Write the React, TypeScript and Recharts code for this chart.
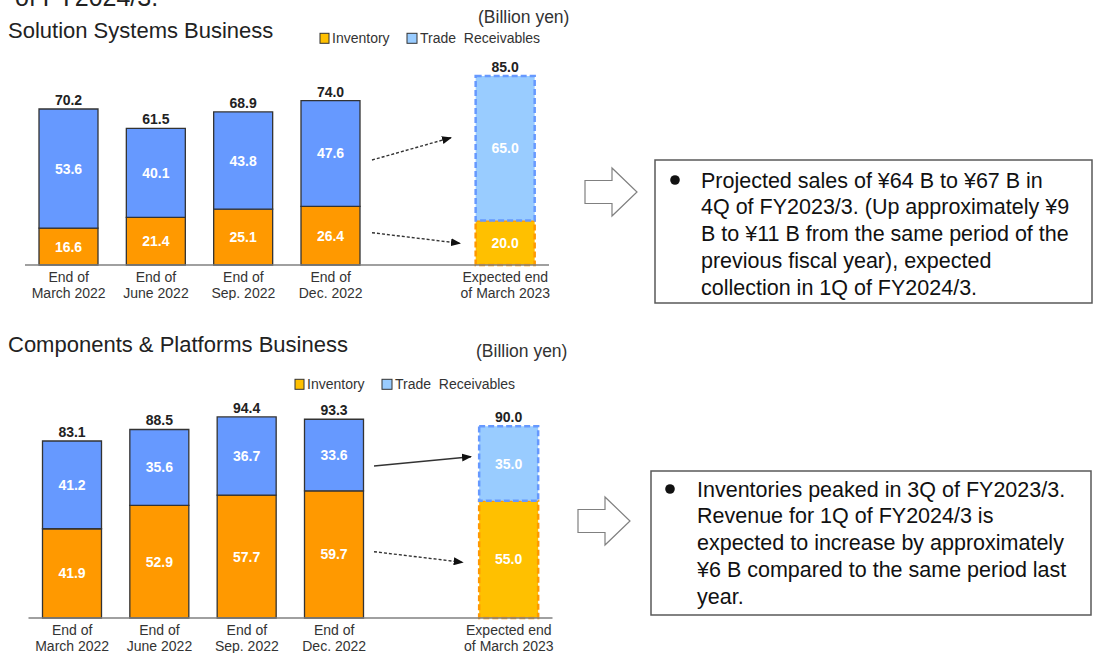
import React from "react";
import { BarChart, Bar, XAxis, YAxis, Cell, LabelList } from "recharts";

const FONT = "'Liberation Sans', Arial, sans-serif";

// categories (index 4 is the empty gap before the forecast)
const categories = [
  "End of\nMarch 2022",
  "End of\nJune 2022",
  "End of\nSep. 2022",
  "End of\nDec. 2022",
  "",
  "Expected end\nof March 2023",
];
const projected = [false, false, false, false, false, true];

// Solution Systems Business (billion yen)
const ssInventory = [16.6, 21.4, 25.1, 26.4, null, 20.0];
const ssReceivables = [53.6, 40.1, 43.8, 47.6, null, 65.0];
const ssTotals = [70.2, 61.5, 68.9, 74.0, null, 85.0];

// Components & Platforms Business (billion yen)
const cpInventory = [41.9, 52.9, 57.7, 59.7, null, 55.0];
const cpReceivables = [41.2, 35.6, 36.7, 33.6, null, 35.0];
const cpTotals = [83.1, 88.5, 94.4, 93.3, null, 90.0];

const seriesNames = ["Inventory", "Trade\u00a0\u00a0Receivables"];

const ssNote = [
  "Projected sales of \u00a564 B to \u00a567 B in",
  "4Q of FY2023/3. (Up approximately \u00a59",
  "B to \u00a511 B from the same period of the",
  "previous fiscal year), expected",
  "collection in 1Q of FY2024/3.",
];
const cpNote = [
  "Inventories peaked in 3Q of FY2023/3.",
  "Revenue for 1Q of FY2024/3 is",
  "expected to increase by approximately",
  "\u00a56 B compared to the same period last",
  "year.",
];

const colors = {
  inventory: "#FF9900",
  inventoryFcst: "#FFC000",
  receivables: "#6699FF",
  receivablesFcst: "#99CCFF",
  outline: "#333333",
};

const CategoryTick = (props: any) => {
  const { x, y, payload } = props;
  const lines = String(payload.value).split("\n");
  return (
    <text x={x} y={y} textAnchor="middle" fontSize={14} fill="#333" fontFamily={FONT}>
      {lines.map((l, i) => (
        <tspan key={i} x={x} dy={i === 0 ? 9 : 16}>
          {l}
        </tspan>
      ))}
    </text>
  );
};

const innerLabel = (props: any) => {
  const { x, y, width, height, value } = props;
  if (value == null) return null;
  return (
    <text
      x={x + width / 2}
      y={y + height / 2}
      dy={5}
      textAnchor="middle"
      fill="#fff"
      fontSize={14}
      fontWeight="bold"
      fontFamily={FONT}
    >
      {Number(value).toFixed(1)}
    </text>
  );
};

const totalLabel = (props: any) => {
  const { x, y, width, value } = props;
  if (value == null) return null;
  return (
    <text
      x={x + width / 2}
      y={y - 4}
      textAnchor="middle"
      fill="#222"
      fontSize={14}
      fontWeight="bold"
      fontFamily={FONT}
    >
      {Number(value).toFixed(1)}
    </text>
  );
};

function StackChart({ inv, rec, tot, domainMax, width, height, margin }: any) {
  const data = categories.map((c, i) => ({
    name: c,
    inventory: inv[i],
    receivables: rec[i],
    total: tot[i],
  }));
  return (
    <BarChart width={width} height={height} data={data} margin={margin} barSize={59}>
      <XAxis
        dataKey="name"
        height={35}
        interval={0}
        tickLine={false}
        axisLine={{ stroke: "#808080", strokeWidth: 1.5 }}
        tick={(p: any) => <CategoryTick {...p} />}
      />
      <YAxis hide domain={[0, domainMax]} />
      <Bar dataKey="inventory" stackId="a" isAnimationActive={false}>
        {data.map((d, i) => (
          <Cell
            key={i}
            fill={projected[i] ? colors.inventoryFcst : colors.inventory}
            stroke={projected[i] ? colors.inventory : colors.outline}
            strokeWidth={projected[i] ? 2.5 : 1.3}
            strokeDasharray={projected[i] ? "6 3" : undefined}
          />
        ))}
        <LabelList dataKey="inventory" content={innerLabel} />
      </Bar>
      <Bar dataKey="receivables" stackId="a" isAnimationActive={false}>
        {data.map((d, i) => (
          <Cell
            key={i}
            fill={projected[i] ? colors.receivablesFcst : colors.receivables}
            stroke={projected[i] ? colors.receivables : colors.outline}
            strokeWidth={projected[i] ? 2.5 : 1.3}
            strokeDasharray={projected[i] ? "6 3" : undefined}
          />
        ))}
        <LabelList dataKey="receivables" content={innerLabel} />
        <LabelList dataKey="total" content={totalLabel} />
      </Bar>
    </BarChart>
  );
}

function Legend({ x, y }: { x: number; y: number }) {
  return (
    <g fontFamily={FONT} fontSize={14} fill="#333">
      <rect x={x} y={y - 5} width={9} height={10} fill={colors.inventoryFcst} stroke="#333" strokeWidth={1} />
      <text x={x + 12} y={y + 5}>{seriesNames[0]}</text>
      <rect x={x + 87} y={y - 5} width={10} height={10} fill={colors.receivablesFcst} stroke="#333" strokeWidth={1} />
      <text x={x + 100} y={y + 5}>{seriesNames[1]}</text>
    </g>
  );
}

function Arrow({ x1, y1, x2, y2, dashed }: any) {
  return (
    <line
      x1={x1}
      y1={y1}
      x2={x2}
      y2={y2}
      stroke="#333"
      strokeWidth={1.4}
      strokeDasharray={dashed ? "3 2" : undefined}
      markerEnd="url(#head)"
    />
  );
}

function BlockArrow({ x, y }: { x: number; y: number }) {
  // x,y = left end of shaft, vertical centre
  const d = `M${x},${y - 11.5} L${x + 27},${y - 11.5} L${x + 27},${y - 24} L${x + 52},${y} L${x + 27},${y + 24} L${x + 27},${y + 11.5} L${x},${y + 11.5} Z`;
  return <path d={d} fill="#fff" stroke="#808080" strokeWidth={1.2} />;
}

function NoteBox({ x, y, w, h, lines, bulletX, textX, firstY }: any) {
  return (
    <g fontFamily={FONT} fontSize={21.5} fill="#111">
      <rect x={x} y={y} width={w} height={h} fill="#fff" stroke="#595959" strokeWidth={1.5} />
      <circle cx={bulletX} cy={firstY} r={4.8} fill="#111" />
      {lines.map((l: string, i: number) => (
        <text key={i} x={textX} y={firstY + 7.7 + i * 26.7}>
          {l}
        </text>
      ))}
    </g>
  );
}

export default function App() {
  return (
    <div
      style={{
        position: "absolute",
        left: 0,
        top: 0,
        width: 1095,
        height: 653,
        overflow: "hidden",
        background: "#fff",
        fontFamily: FONT,
      }}
    >
      <div style={{ position: "absolute", left: 0, top: 0 }}>
        <StackChart
          inv={ssInventory}
          rec={ssReceivables}
          tot={ssTotals}
          domainMax={90}
          width={560}
          height={300}
          margin={{ top: 65, left: 25, right: 11, bottom: 0 }}
        />
      </div>
      <div style={{ position: "absolute", left: 0, top: 340 }}>
        <StackChart
          inv={cpInventory}
          rec={cpReceivables}
          tot={cpTotals}
          domainMax={100}
          width={560}
          height={313}
          margin={{ top: 65, left: 28.5, right: 7.5, bottom: 0 }}
        />
      </div>
      <svg
        width={1095}
        height={653}
        style={{ position: "absolute", left: 0, top: 0, pointerEvents: "none" }}
      >
        <defs>
          <marker id="head" markerWidth="10" markerHeight="8" refX="9" refY="4" orient="auto" markerUnits="userSpaceOnUse">
            <path d="M0,0 L10,4 L0,8 Z" fill="#111" />
          </marker>
        </defs>
        <text x={15} y={6} fontSize={25} fill="#222" fontFamily={FONT}>
          of FY2024/3.
        </text>

        <text x={8} y={37.8} fontSize={22} fill="#222" fontFamily={FONT}>
          Solution Systems Business
        </text>
        <text x={478} y={23} fontSize={17.5} fill="#333" fontFamily={FONT}>
          (Billion yen)
        </text>
        <Legend x={320} y={38.3} />

        <text x={8} y={351.8} fontSize={22} fill="#222" fontFamily={FONT}>
          Components &amp; Platforms Business
        </text>
        <text x={476} y={357} fontSize={17.5} fill="#333" fontFamily={FONT}>
          (Billion yen)
        </text>
        <Legend x={295} y={384.3} />

        <Arrow x1={372} y1={160} x2={451} y2={137.7} dashed />
        <Arrow x1={372} y1={232.7} x2={460} y2={243.3} dashed />
        <Arrow x1={374} y1={466} x2={471} y2={456.7} />
        <Arrow x1={374} y1={551.7} x2={462.7} y2={562.3} dashed />

        <BlockArrow x={585} y={192} />
        <BlockArrow x={578} y={521} />

        <NoteBox x={655} y={160} w={437} h={143} lines={ssNote} bulletX={675} textX={701} firstY={180} />
        <NoteBox x={651} y={471} w={440} h={144} lines={cpNote} bulletX={670} textX={697} firstY={489} />
      </svg>
    </div>
  );
}
